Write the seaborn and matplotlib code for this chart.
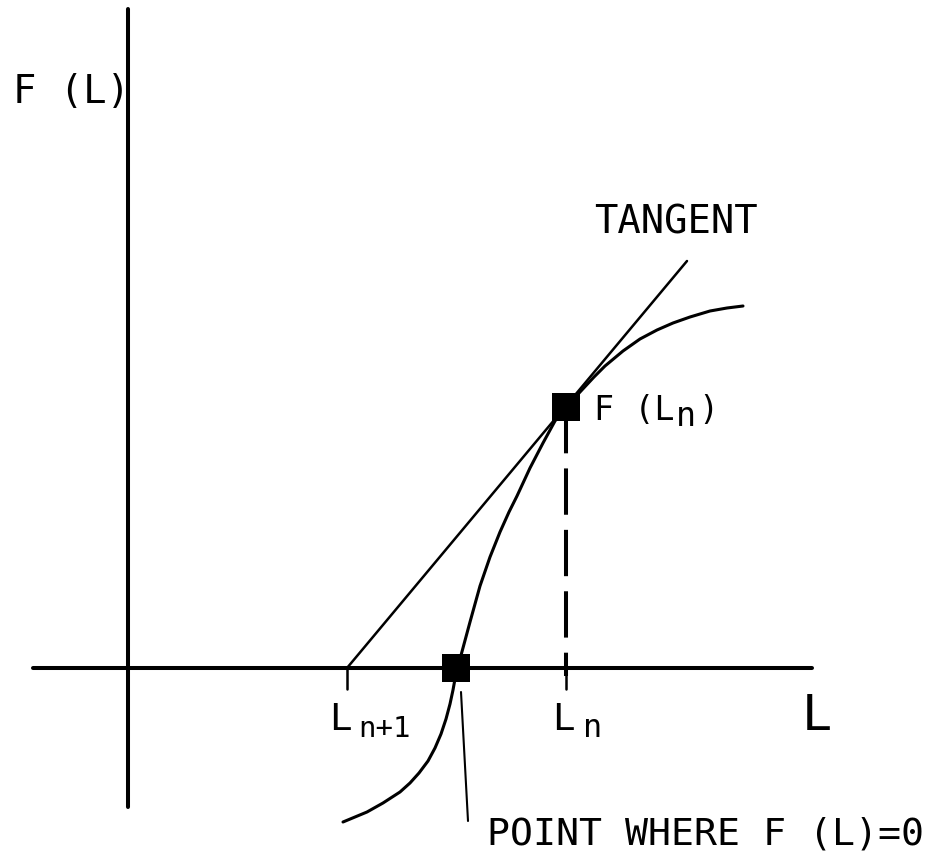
import numpy as np
import pandas as pd
import matplotlib
matplotlib.use("Agg")
import matplotlib.pyplot as plt
import seaborn as sns

# ----------------------------------------------------------------------------
# DATA (diagram units: origin where the two axes cross)
# ----------------------------------------------------------------------------
# function curve F(L)
curve_x = [2.15, 2.27, 2.39, 2.55, 2.72, 2.82, 2.91, 3.00, 3.07, 3.13, 3.18,
           3.22, 3.25, 3.27, 3.29,
           3.32, 3.42, 3.52, 3.62, 3.72, 3.81, 3.89, 4.02, 4.15, 4.27, 4.38,
           4.52, 4.66, 4.77, 4.95, 5.12, 5.29, 5.45, 5.62, 5.82, 5.99, 6.15]
curve_y = [-1.54, -1.49, -1.44, -1.35, -1.24, -1.15, -1.05, -0.93, -0.80, -0.66, -0.51,
           -0.36, -0.22, -0.11, 0.0,
           0.09, 0.46, 0.82, 1.11, 1.36, 1.56, 1.72, 2.00, 2.25, 2.47, 2.61,
           2.76, 2.91, 3.02, 3.17, 3.29, 3.38, 3.45, 3.51, 3.57, 3.60, 3.62]

# tangent at L_n
tangent_x = [2.19, 5.59]
tangent_y = [0.0, 4.07]

# special points
l_n = 4.38
f_l_n = 2.61
l_n1 = 2.19
root_x = 3.28
root_y = 0.0

# axes extents
xaxis_x = [-0.95, 6.84]
xaxis_y = [0.0, 0.0]
yaxis_x = [0.0, 0.0]
yaxis_y = [-1.39, 6.59]

# leader line to the root label
leader_x = [3.33, 3.40]
leader_y = [-0.24, -1.53]

# ----------------------------------------------------------------------------
# FIGURE
# ----------------------------------------------------------------------------
sns.set_theme(style="white")
plt.rcParams['font.family'] = ['DejaVu Sans Mono', 'DejaVu Sans']

fig = plt.figure(figsize=(9.36, 8.53), dpi=100)
ax = fig.add_axes([0, 0, 1, 1])
ax.set_xlim(-1.28, 8.08)
ax.set_ylim(-1.84, 6.69)
ax.axis('off')

black = 'black'
line_kw = dict(ax=ax, color=black, sort=False, estimator=None)

# coordinate axes
sns.lineplot(x=xaxis_x, y=xaxis_y, linewidth=2.9, **line_kw)
sns.lineplot(x=yaxis_x, y=yaxis_y, linewidth=2.9, **line_kw)

# tick marks at L_n+1 and L_n
for xt in [l_n1, l_n]:
    sns.lineplot(x=[xt, xt], y=[0.0, -0.21], linewidth=1.8, **line_kw)

# curve
df_curve = pd.DataFrame({'L': curve_x, 'F': curve_y})
sns.lineplot(data=df_curve, x='L', y='F', linewidth=2.2, **line_kw)

# tangent
sns.lineplot(x=tangent_x, y=tangent_y, linewidth=1.8, **line_kw)

# dashed drop line from F(L_n)
sns.lineplot(x=[l_n, l_n], y=[f_l_n, -0.08], linewidth=2.9,
             linestyle=(0, (11.5, 3.75)), **line_kw)

# leader line
sns.lineplot(x=leader_x, y=leader_y, linewidth=1.5, **line_kw)

# square markers
df_pts = pd.DataFrame({'L': [l_n, root_x], 'F': [f_l_n, root_y]})
sns.scatterplot(data=df_pts, x='L', y='F', ax=ax, marker='s', s=380,
                color=black, edgecolor=black, linewidth=0, zorder=5)

# ----------------------------------------------------------------------------
# LABELS
# ----------------------------------------------------------------------------
txt = dict(color=black, ha='left', va='baseline')

ax.text(-1.15, 5.66, 'F (L)', fontsize=28, **txt)
ax.text(4.66, 4.36, 'TANGENT', fontsize=28, **txt)

# F(L_n)
ax.text(4.66, 2.49, 'F (L', fontsize=24, **txt)
ax.text(5.48, 2.43, 'n', fontsize=24, **txt)
ax.text(5.70, 2.49, ')', fontsize=24, **txt)

# L_n+1
ax.text(2.01, -0.61, 'L', fontsize=27, **txt)
ax.text(2.30, -0.68, 'n+1', fontsize=21, **txt)

# L_n
ax.text(4.24, -0.61, 'L', fontsize=27, **txt)
ax.text(4.55, -0.68, 'n', fontsize=23, **txt)

# axis name
ax.text(6.74, -0.61, 'L', fontsize=36, **txt)

# root label
ax.text(3.59, -1.76, 'POINT WHERE F (L)=0', fontsize=27.5, **txt)

plt.savefig("out.png", dpi=100)
